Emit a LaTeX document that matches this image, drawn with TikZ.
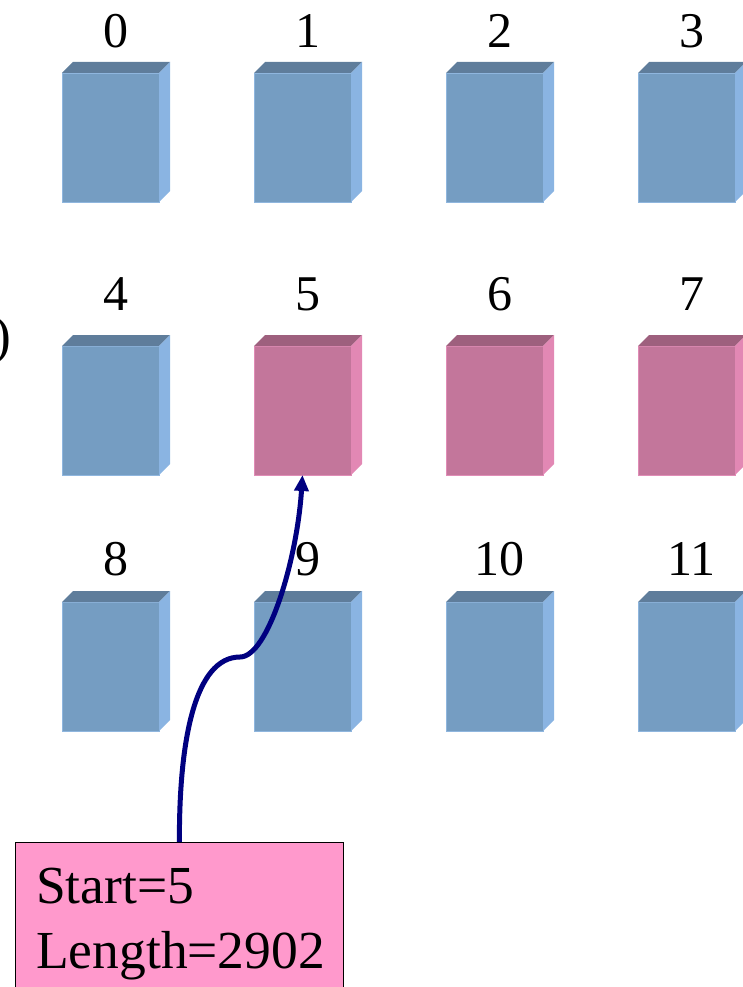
\documentclass[tikz,border=0pt]{standalone}
\usepackage{fontspec}
\setmainfont{Liberation Serif}
\usetikzlibrary{arrows.meta}
\definecolor{bfront}{HTML}{759DC2}
\definecolor{btop}{HTML}{5F7D9B}
\definecolor{bside}{HTML}{8AB4E2}
\definecolor{bedge}{HTML}{8FB6DE}
\definecolor{pfront}{HTML}{C3769B}
\definecolor{ptop}{HTML}{9E607E}
\definecolor{pside}{HTML}{E288B4}
\definecolor{pedge}{HTML}{E08CB6}
\definecolor{boxpink}{HTML}{FF99CC}
\definecolor{arrownavy}{HTML}{000080}
\tikzset{
  front/.style={minimum width=97pt, minimum height=129pt, inner sep=0pt, outer sep=0pt, anchor=north west, line width=0.8pt},
  numlabel/.style={font=\fontsize{50}{60}\selectfont, anchor=base, inner sep=0pt},
  boxtext/.style={anchor=base west, inner sep=0pt, font=\fontsize{53.5}{60}\selectfont},
  infobox/.style={draw=black, line width=0.8pt, fill=boxpink, anchor=north west, minimum width=328pt, minimum height=160pt, inner sep=0pt},
  link/.style={draw=arrownavy, line width=5pt, -{Triangle[length=16pt,width=14pt]}}
}
\begin{document}
\begin{tikzpicture}[x=1pt,y=-1pt]
\useasboundingbox (0,0) rectangle (743,987);
\clip (0,0) rectangle (743,987);
% blocks: index/column/row
\foreach \i/\c/\r in {0/0/0,1/1/0,2/2/0,3/3/0,4/0/1,5/1/1,6/2/1,7/3/1,8/0/2,9/1/2,10/2/2,11/3/2}{
  \pgfmathsetmacro{\bx}{62+192*\c}
  \pgfmathsetmacro{\by}{\r==0 ? 73 : (\r==1 ? 346 : 602)}
  \pgfmathsetmacro{\ly}{\r==0 ? 48 : (\r==1 ? 310 : 575)}
  \ifnum\i=5 \def\pre{p}\else\ifnum\i=6 \def\pre{p}\else\ifnum\i=7 \def\pre{p}\else\def\pre{b}\fi\fi\fi
  \node[front, fill=\pre front, draw=\pre edge] (b\i) at (\bx,\by) {};
  \fill[\pre top] (b\i.north west) -- ++(11,-11) -- ++(97,0) -- (b\i.north east) -- cycle;
  \fill[\pre side] (b\i.north east) -- ++(11,-11) -- ++(0,129) -- (b\i.south east) -- cycle;
  \node[numlabel] (l\i) at (\bx+53.5,\ly) {\i};
}
\node[boxtext] (paren) at (-7,353) {)};
\node[infobox] (info) at (15,842) {};
\node[boxtext] (t1) at (36,903) {Start=5};
\node[boxtext] (t2) at (36,968) {Length=2902};
\coordinate (bend) at (240,657);
\draw[link] (info.north) .. controls (179,740) and (195,657) .. (bend)
  .. controls (268,657) and (297,560) .. (b5.south);
\end{tikzpicture}
\end{document}
